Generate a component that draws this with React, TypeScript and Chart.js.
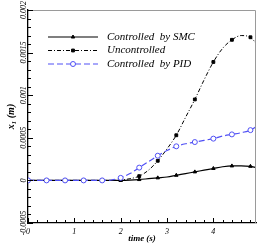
import React, { useEffect, useRef } from "react";
import { Chart, registerables } from "chart.js";
import { drawPoint } from "chart.js/helpers";

Chart.register(...registerables);

// ---- data ----
const time = [0, 0.4, 0.8, 1.2, 1.6, 1.8, 2.0, 2.2, 2.4, 2.6, 2.8, 3.0, 3.2, 3.4, 3.6, 3.8, 4.0, 4.2, 4.4, 4.6, 4.8, 4.92];
const smc = [0, 0, 0, 0, 0, 0, 0, 0.000003, 0.00001, 0.00002, 0.00003, 0.00004, 0.00006, 0.00008, 0.0001, 0.00012, 0.00014, 0.00016, 0.00017, 0.00017, 0.000165, 0.00015];
const uncontrolled = [0, 0, 0, 0, 0, 0, 0.000005, 0.00002, 0.00005, 0.00012, 0.00023, 0.00037, 0.00053, 0.00074, 0.00095, 0.00118, 0.00139, 0.00155, 0.00165, 0.0017, 0.00168, 0.00161];
const pid = [0, 0, 0, 0, 0, 0.000005, 0.00003, 0.00008, 0.00015, 0.00022, 0.00029, 0.00035, 0.0004, 0.00043, 0.00045, 0.00047, 0.00049, 0.00052, 0.00054, 0.00056, 0.00059, 0.00063];

const seriesLabels = ["Controlled  by SMC", "Uncontrolled", "Controlled  by PID"];
const yTickValues = [-0.0005, 0, 0.0005, 0.001, 0.0015, 0.002];
const yTickLabels = ["-0.0005", "0", "0.0005", "0.001", "0.0015", "0.002"];
const xTickValues = [0, 1, 2, 3, 4];
const xTickLabels = ["0", "1", "2", "3", "4"];
const xTitle = "time (s)";
const yTitle = "x\u2081 (m)";

const FONT = "'Liberation Serif', 'Times New Roman', serif";
const BLUE = "#5050f5";

const isMarker = (t: number) => Math.abs(t / 0.4 - Math.round(t / 0.4)) < 1e-6;

const toPts = (vals: number[]) => time.map((t, i) => ({ x: t, y: vals[i] }));

const minorTicksPlugin = {
  id: "minorTicks",
  afterDraw(chart: any) {
    const { ctx, chartArea } = chart;
    const xs = chart.scales.x;
    const ys = chart.scales.y;
    ctx.save();
    ctx.strokeStyle = "#9a9a9a";
    ctx.lineWidth = 1;
    ctx.beginPath();
    ctx.moveTo(chartArea.left, chartArea.top + 0.5);
    ctx.lineTo(chartArea.right - 0.5, chartArea.top + 0.5);
    ctx.lineTo(chartArea.right - 0.5, chartArea.bottom);
    ctx.stroke();
    ctx.strokeStyle = "#000";
    ctx.lineWidth = 1;
    ctx.beginPath();
    for (let k = -5; k <= 20; k++) {
      const v = k * 0.0001;
      const py = Math.round(ys.getPixelForValue(v)) + 0.5;
      const len = k % 5 === 0 ? 5 : 3;
      ctx.moveTo(chartArea.left, py);
      ctx.lineTo(chartArea.left + len, py);
    }
    for (let k = 0; k <= 24; k++) {
      const v = k * 0.2;
      if (v > xs.max) break;
      const px = Math.round(xs.getPixelForValue(v)) + 0.5;
      const len = k % 5 === 0 ? 5 : 3;
      ctx.moveTo(px, chartArea.bottom);
      ctx.lineTo(px, chartArea.bottom - len);
    }
    ctx.stroke();
    ctx.restore();
  },
};

const legendPlugin = {
  id: "insideLegend",
  afterDraw(chart: any) {
    const { ctx, chartArea } = chart;
    const x0 = chartArea.left + 20;
    const x1 = chartArea.left + 70;
    const tx = chartArea.left + 79;
    ctx.save();
    chart.data.datasets.forEach((ds: any, i: number) => {
      const y = chartArea.top + 27 + i * 13.5;
      ctx.strokeStyle = ds.borderColor;
      ctx.lineWidth = ds.borderWidth;
      ctx.setLineDash(ds.borderDash || []);
      ctx.beginPath();
      ctx.moveTo(x0, y);
      ctx.lineTo(x1, y);
      ctx.stroke();
      ctx.setLineDash([]);
      ctx.fillStyle = ds.pointBackgroundColor;
      ctx.strokeStyle = ds.pointBorderColor;
      ctx.lineWidth = 1;
      drawPoint(ctx, { pointStyle: ds.pointStyle, rotation: 0, radius: ds.markerRadius, borderWidth: 1 }, (x0 + x1) / 2, y);
      ctx.fillStyle = "#000";
      ctx.font = `italic 11px ${FONT}`;
      ctx.textBaseline = "middle";
      ctx.textAlign = "left";
      ctx.fillText(ds.label, tx, y);
    });
    ctx.restore();
  },
};

export default function App() {
  const ref = useRef<HTMLCanvasElement>(null);
  useEffect(() => {
    if (!ref.current) return;
    const mk = (label: string, vals: number[], color: string, dash: number[], width: number, style: string, r: number, fill: string, order: number) => ({
      label,
      data: toPts(vals),
      borderColor: color,
      borderWidth: width,
      borderDash: dash,
      pointStyle: style,
      markerRadius: r,
      pointRadius: (c: any) => (isMarker(time[c.dataIndex]) ? r : 0),
      pointBackgroundColor: fill,
      pointBorderColor: color,
      pointBorderWidth: 1,
      fill: false,
      tension: 0.4,
      cubicInterpolationMode: "monotone",
      order,
    });
    const chart = new Chart(ref.current, {
      type: "line",
      data: {
        datasets: [
          mk(seriesLabels[0], smc, "#000", [], 1.2, "triangle", 2, "#000", 2),
          mk(seriesLabels[1], uncontrolled, "#000", [4, 2, 1, 2], 1, "rect", 2, "#000", 1),
          mk(seriesLabels[2], pid, BLUE, [6, 3], 1.2, "circle", 2.5, "#fff", 0),
        ] as any,
      },
      options: {
        responsive: false,
        animation: false,
        layout: { padding: { top: 10, right: 2, left: 0, bottom: 0 } },
        plugins: { legend: { display: false }, tooltip: { enabled: false } },
        scales: {
          x: {
            type: "linear",
            min: 0,
            max: 4.92,
            grid: { display: false },
            border: { display: true, color: "#000", width: 1.3 },
            afterBuildTicks: (s: any) => {
              s.ticks = xTickValues.map((v) => ({ value: v }));
            },
            afterFit: (s: any) => {
              s.height = 21;
            },
            ticks: {
              padding: -4,
              color: "#000",
              font: { family: FONT, size: 8, style: "italic" },
              callback: (v: any) => {
                const i = xTickValues.findIndex((t) => Math.abs(t - v) < 1e-9);
                return i >= 0 ? xTickLabels[i] : "";
              },
            },
            title: {
              display: true,
              text: xTitle,
              color: "#000",
              padding: { top: 0, bottom: 0 },
              font: { family: FONT, size: 9, style: "italic", weight: "bold", lineHeight: 1.1 },
            },
          },
          y: {
            type: "linear",
            min: -0.0005,
            max: 0.002,
            grid: { display: false },
            border: { display: true, color: "#000", width: 1.3 },
            afterBuildTicks: (s: any) => {
              s.ticks = yTickValues.map((v) => ({ value: v }));
            },
            afterFit: (s: any) => {
              s.width = 28;
            },
            ticks: {
              minRotation: 90,
              maxRotation: 90,
              crossAlign: "center",
              padding: -16,
              color: "#000",
              font: { family: FONT, size: 8, style: "italic" },
              callback: (v: any) => {
                const i = yTickValues.findIndex((t) => Math.abs(t - v) < 1e-9);
                return i >= 0 ? yTickLabels[i] : "";
              },
            },
            title: {
              display: true,
              text: yTitle,
              color: "#000",
              padding: { top: 6, bottom: 0 },
              font: { family: FONT, size: 10, style: "italic", weight: "bold", lineHeight: 1.1 },
            },
          },
        },
      } as any,
      plugins: [minorTicksPlugin, legendPlugin],
    });
    return () => chart.destroy();
  }, []);
  return (
    <div style={{ position: "fixed", left: 0, top: 0, width: 261, height: 244, background: "#fff" }}>
      <canvas ref={ref} width={261} height={244} style={{ width: 261, height: 244, display: "block" }} />
    </div>
  );
}
